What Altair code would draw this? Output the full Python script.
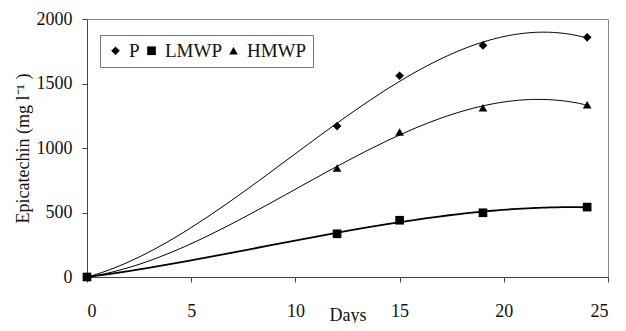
import altair as alt
import pandas as pd

days = [0, 12, 15, 19, 24]
p_vals = [0, 1170, 1560, 1795, 1858]
lmwp_vals = [0, 335, 440, 498, 542]
hmwp_vals = [0, 845, 1125, 1312, 1335]
series_names = ["P", "LMWP", "HMWP"]
shapes = ["diamond", "square", "triangle-up"]

rows = []
for name, vals in zip(series_names, [p_vals, lmwp_vals, hmwp_vals]):
    for d, v in zip(days, vals):
        rows.append({"Days": d, "value": v, "series": name})
df = pd.DataFrame(rows)

FONT = "Liberation Serif"

xenc = alt.X(
    "Days:Q",
    scale=alt.Scale(domain=[0, 25], nice=False),
    axis=alt.Axis(values=[0, 5, 10, 15, 20, 25], title="Days", grid=False,
                  tickSize=5, labelPadding=20, titleY=29, titleBaseline="top"),
)
yenc = alt.Y(
    "value:Q",
    scale=alt.Scale(domain=[0, 2000], nice=False),
    axis=alt.Axis(values=[0, 500, 1000, 1500, 2000], format="d", title="Epicatechin (mg l⁻¹ )",
                  grid=False, tickSize=5, labelPadding=10, titlePadding=4),
)

base = alt.Chart(df)

def trend(names, width):
    return base.transform_filter(
        alt.FieldOneOfPredicate(field="series", oneOf=names)
    ).transform_regression(
        "Days", "value", groupby=["series"], method="poly", order=3, extent=[0, 24]
    ).mark_line(color="black", strokeWidth=width).encode(
        x=xenc, y=yenc, detail="series:N",
    )

thin = trend(["P", "HMWP"], 1.0)
thick = trend(["LMWP"], 1.8)

points = base.mark_point(filled=True, color="black", opacity=1, size=75).encode(
    x=xenc,
    y=yenc,
    shape=alt.Shape(
        "series:N",
        sort=series_names,
        scale=alt.Scale(domain=series_names, range=shapes),
        legend=alt.Legend(
            title=None, orient="none", legendX=13, legendY=16, direction="horizontal",
            strokeColor="#777", padding=6, labelFont=FONT, labelFontSize=19,
            labelColor="#111", symbolFillColor="black", symbolStrokeColor="black",
            symbolSize=75, columnPadding=2, labelOffset=4,
        ),
    ),
)

chart = alt.layer(thin, thick, points).properties(
    width=521, height=258,
    autosize=alt.AutoSizeParams(type="none"),
    padding={"left": 79, "top": 11, "right": 10, "bottom": 46},
    background="white",
).configure_view(
    stroke="#888", strokeWidth=1
).configure_axis(
    domainColor="#444", tickColor="#444", labelFont=FONT, titleFont=FONT,
    labelFontSize=18, titleFontSize=18, labelColor="#111", titleColor="#111",
    titleFontWeight="normal",
)

chart.save("out.html", embed_options={"renderer": "svg", "actions": False})
